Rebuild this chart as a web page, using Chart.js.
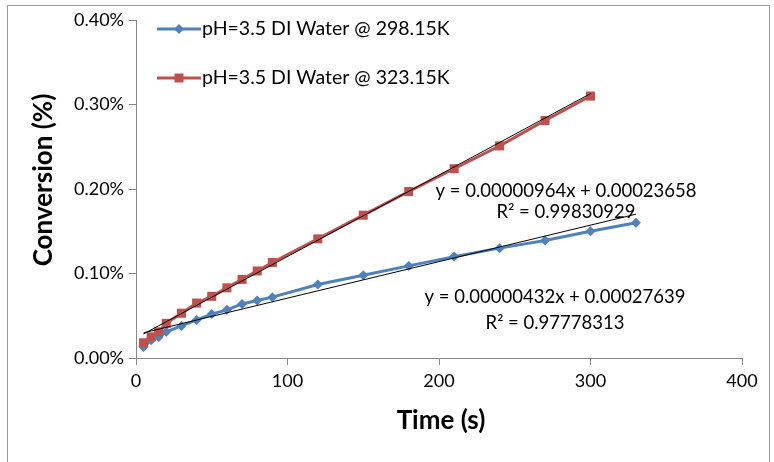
<!DOCTYPE html>
<html><head><meta charset="utf-8">
<script src="https://cdn.jsdelivr.net/npm/chart.js@4.4.1/dist/chart.umd.min.js"></script>
<style>html,body{margin:0;padding:0;background:#fff;}canvas{display:block;}</style>
</head><body>
<canvas id="c" width="774" height="462"></canvas>
<script>
// ---- data (conversion as fraction; axis shows percent) ----
const time298 = [5,10,15,20,30,40,50,60,70,80,90,120,150,180,210,240,270,300,330];
const conv298 = [0.00013,0.00021,0.00025,0.00031,0.00038,0.00045,0.00052,0.00057,0.00064,0.00068,0.00072,0.00087,0.00098,0.00109,0.00120,0.00130,0.00139,0.00150,0.00160];
const time323 = [5,10,15,20,30,40,50,60,70,80,90,120,150,180,210,240,270,300];
const conv323 = [0.00018,0.00025,0.00031,0.00041,0.00053,0.00065,0.00073,0.00083,0.00093,0.00103,0.00113,0.00141,0.00169,0.00197,0.00224,0.00251,0.00281,0.00310];
const trendX298 = [5,330];
const trendY298 = [0.000298,0.001702];
const trendX323 = [5,300];
const trendY323 = [0.000285,0.003129];
const seriesNames = ['pH=3.5 DI Water @ 298.15K','pH=3.5 DI Water @ 323.15K'];
const eq298 = ['y = 0.00000432x + 0.00027639','R\u00B2 = 0.97778313'];
const eq323 = ['y = 0.00000964x + 0.00023658','R\u00B2 = 0.99830929'];
const xTicks = [0,100,200,300,400];
const yTicks = [0,0.001,0.002,0.003,0.004];
const xTitle = 'Time (s)';
const yTitle = 'Conversion (%)';

const BLUE = '#4F81BD', RED = '#C0504D', AXIS = '#868686';
const FONT = 'Lato';

const pts = (xs, ys) => xs.map((x, i) => ({x: x, y: ys[i]}));

const deco = {
  id: 'deco',
  beforeDraw(chart) {
    const ctx = chart.ctx;
    ctx.save();
    ctx.fillStyle = '#fff';
    ctx.fillRect(0, 0, chart.width, chart.height);
    ctx.strokeStyle = '#9a9a9a';
    ctx.lineWidth = 1;
    ctx.strokeRect(7.5, 5.5, 762, 480);
    ctx.restore();
  },
  afterDraw(chart) {
    const ctx = chart.ctx;
    ctx.save();
    ctx.fillStyle = '#000';
    // axis titles
    ctx.font = 'bold 26px ' + FONT;
    ctx.textAlign = 'center';
    ctx.textBaseline = 'middle';
    ctx.fillText(xTitle, 441, 421);
    ctx.save();
    ctx.translate(44, 180);
    ctx.rotate(-Math.PI / 2);
    ctx.fillText(yTitle, 0, 0);
    ctx.restore();
    // legend
    const rows = [{y: 29, c: BLUE, s: 'diamond'}, {y: 78, c: RED, s: 'square'}];
    rows.forEach((r, i) => {
      ctx.strokeStyle = r.c; ctx.fillStyle = r.c; ctx.lineWidth = 3;
      ctx.beginPath(); ctx.moveTo(157, r.y); ctx.lineTo(201, r.y); ctx.stroke();
      ctx.beginPath();
      if (r.s === 'diamond') {
        ctx.moveTo(179, r.y - 5); ctx.lineTo(184, r.y); ctx.lineTo(179, r.y + 5); ctx.lineTo(174, r.y);
      } else {
        ctx.rect(174.5, r.y - 4.5, 9, 9);
      }
      ctx.closePath(); ctx.fill();
      ctx.fillStyle = '#000';
      ctx.font = '19.5px ' + FONT;
      ctx.textAlign = 'left';
      ctx.fillText(seriesNames[i], 202, r.y);
    });
    // trendline equations
    ctx.font = '18.5px ' + FONT;
    ctx.textAlign = 'center';
    ctx.fillText(eq323[0], 566, 191);
    ctx.fillText(eq323[1], 566, 212);
    ctx.fillText(eq298[0], 555, 297);
    ctx.fillText(eq298[1], 555, 323);
    ctx.restore();
  }
};

new Chart(document.getElementById('c'), {
  type: 'scatter',
  data: {
    datasets: [
      {label: 'trend298', data: pts(trendX298, trendY298), showLine: true, borderColor: '#000', borderWidth: 1, pointRadius: 0, order: 0},
      {label: 'trend323', data: pts(trendX323, trendY323), showLine: true, borderColor: '#000', borderWidth: 1, pointRadius: 0, order: 0},
      {label: seriesNames[0], data: pts(time298, conv298), showLine: true, borderColor: BLUE, backgroundColor: BLUE, borderWidth: 3,
       pointStyle: 'rectRot', pointRadius: 5, pointBorderWidth: 0, order: 2},
      {label: seriesNames[1], data: pts(time323, conv323), showLine: true, borderColor: RED, backgroundColor: RED, borderWidth: 3,
       pointStyle: 'rect', pointRadius: 6.4, pointBorderWidth: 0, order: 1}
    ]
  },
  options: {
    responsive: false,
    animation: false,
    devicePixelRatio: 1,
    layout: {padding: {left: 0, right: 32, top: 20, bottom: 0}},
    plugins: {legend: {display: false}, tooltip: {enabled: false}},
    scales: {
      x: {
        type: 'linear', min: 0, max: 400,
        afterBuildTicks: s => { s.ticks = xTicks.map(v => ({value: v})); },
        afterFit: s => { s.height = 104; },
        ticks: {color: '#000', font: {family: FONT, size: 18}, padding: 5},
        grid: {display: true, drawOnChartArea: false, drawTicks: true, tickLength: 7, color: AXIS},
        border: {color: AXIS, width: 1}
      },
      y: {
        type: 'linear', min: 0, max: 0.004,
        afterBuildTicks: s => { s.ticks = yTicks.map(v => ({value: v})); },
        afterFit: s => { s.width = 136; },
        ticks: {color: '#000', font: {family: FONT, size: 18}, padding: 5,
                callback: v => (v * 100).toFixed(2) + '%'},
        grid: {display: true, drawOnChartArea: false, drawTicks: true, tickLength: 7, color: AXIS},
        border: {color: AXIS, width: 1}
      }
    }
  },
  plugins: [deco]
});
</script>
</body></html>
